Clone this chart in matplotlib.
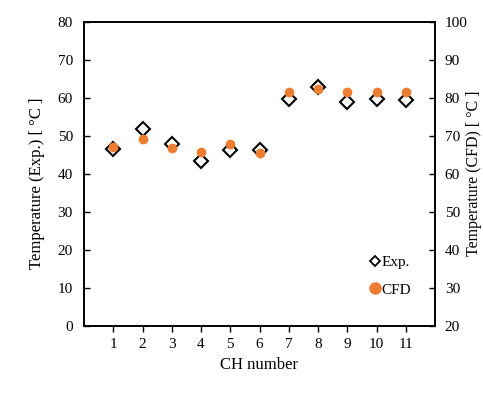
import numpy as np
import matplotlib
matplotlib.use("Agg")
import matplotlib.pyplot as plt
from matplotlib.lines import Line2D

plt.rcParams['font.family'] = ['Liberation Serif', 'DejaVu Serif']

ch = [1, 2, 3, 4, 5, 6, 7, 8, 9, 10, 11]
exp_temp = [46.4, 51.7, 47.8, 43.3, 46.3, 46.3, 59.6, 62.9, 58.9, 59.6, 59.4]
cfd_temp = [67.0, 69.1, 66.8, 65.7, 67.7, 65.4, 81.5, 82.2, 81.5, 81.5, 81.5]

fig = plt.figure(figsize=(4.83, 3.94), dpi=100)
ax = fig.add_axes([84/483, 1-325.7/394, 351/483, 304/394])
ax2 = ax.twinx()

ax.plot(ch, exp_temp, 'D', ms=7, mfc='white', mec='black', mew=1.5, zorder=2)
ax2.plot(ch, cfd_temp, 'o', ms=6, color='#ED7D31', zorder=3)

ax.set_xlim(0, 12)
ax.set_ylim(0, 80)
ax2.set_ylim(20, 100)
ax.set_xticks(ch)
ax.set_yticks(np.arange(0, 81, 10))
ax2.set_yticks(np.arange(20, 101, 10))

ax.tick_params(axis='y', direction='in', length=4, width=1, labelsize=11, pad=8)
ax.tick_params(axis='x', direction='out', length=4, width=1, labelsize=11, pad=5)
ax2.tick_params(axis='y', direction='in', length=4, width=1, labelsize=11, pad=7)
for a in (ax, ax2):
    for s in a.spines.values():
        s.set_linewidth(1.2)

ax.set_xlabel('CH number', fontsize=12, labelpad=4)
ax.set_ylabel('Temperature (Exp.) [ °C ]', fontsize=12, labelpad=9)
ax.yaxis.label.set_y(0.47)
ax2.set_ylabel('Temperature (CFD) [ °C ]', fontsize=11.5, labelpad=-1)

handles = [Line2D([], [], marker='D', ls='none', ms=5, mfc='white', mec='black', mew=1.3),
           Line2D([], [], marker='o', ls='none', ms=8, color='#ED7D31')]
ax.legend(handles, ['Exp.', 'CFD'], loc='lower right', bbox_to_anchor=(0.97, 0.05),
          frameon=False, fontsize=11, handlelength=0.6, handletextpad=0.1,
          labelspacing=0.9)

fig.savefig('out.png', dpi=100)
